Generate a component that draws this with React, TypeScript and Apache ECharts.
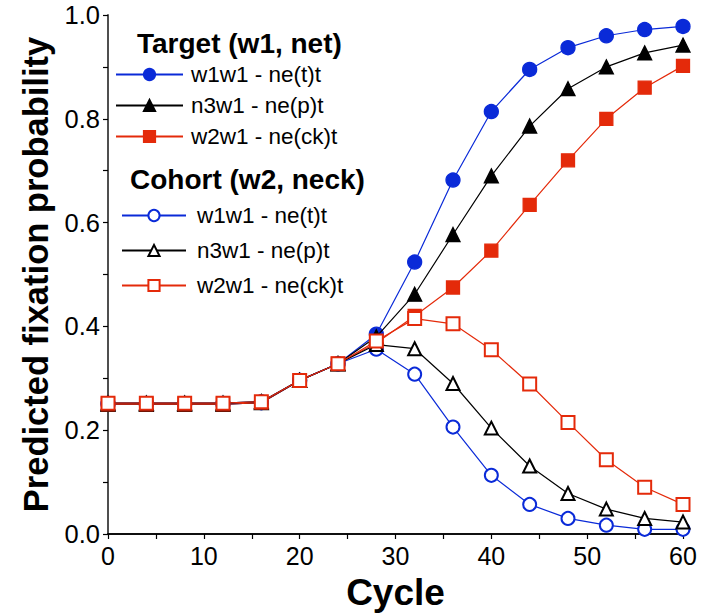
import React, { useEffect, useRef } from "react";
import * as echarts from "echarts";

const cycles = [0, 4, 8, 12, 16, 20, 24, 28, 32, 36, 40, 44, 48, 52, 56, 60];

const targetW1 = [0.25, 0.25, 0.25, 0.25, 0.253, 0.296, 0.328, 0.385, 0.524, 0.682, 0.814, 0.895, 0.937, 0.96, 0.972, 0.978];
const targetN3 = [0.25, 0.25, 0.25, 0.25, 0.253, 0.296, 0.328, 0.38, 0.462, 0.577, 0.69, 0.786, 0.858, 0.9, 0.927, 0.942];
const targetW2 = [0.25, 0.25, 0.25, 0.25, 0.253, 0.296, 0.328, 0.368, 0.42, 0.475, 0.546, 0.634, 0.72, 0.8, 0.86, 0.902];

const cohortW1 = [0.252, 0.252, 0.252, 0.252, 0.255, 0.296, 0.328, 0.356, 0.308, 0.206, 0.113, 0.057, 0.03, 0.017, 0.009, 0.009];
const cohortN3 = [0.252, 0.252, 0.252, 0.252, 0.255, 0.296, 0.328, 0.365, 0.357, 0.29, 0.204, 0.131, 0.078, 0.048, 0.03, 0.023];
const cohortW2 = [0.252, 0.252, 0.252, 0.252, 0.255, 0.296, 0.328, 0.372, 0.415, 0.405, 0.355, 0.289, 0.215, 0.143, 0.09, 0.057];

const itemLabels = ["w1w1 - ne(t)t", "n3w1 - ne(p)t", "w2w1 - ne(ck)t"];
const groupTitles = ["Target (w1, net)", "Cohort (w2, neck)"];

const BLUE = "#0a2ad8";
const RED = "#e42a0a";
const BLACK = "#000000";
const FONT = "Liberation Sans";

function toPairs(vals: number[]) {
  return cycles.map((c, i) => [c, vals[i]]);
}

export default function App() {
  const ref = useRef<HTMLDivElement>(null);
  useEffect(() => {
    document.body.style.margin = "0";
    if (!ref.current) return;
    const chart = echarts.init(ref.current, null, { renderer: "svg" });
    const mk = (name: string, vals: number[], color: string, symbol: string, size: number, z: number) => ({
      type: "line",
      name,
      data: toPairs(vals),
      symbol,
      symbolSize: size,
      z,
      lineStyle: { color, width: 1.2 },
      itemStyle: { color, borderColor: color, borderWidth: 1.3 },
      emphasis: { disabled: true },
    });
    const tNames = itemLabels.map((l) => "t:" + l);
    const cNames = itemLabels.map((l) => "c:" + l);
    const legendText = (pad: number) => ({
      fontFamily: FONT,
      fontSize: 22.5,
      color: "#000",
      padding: [0, 0, 0, pad],
    });
    chart.setOption({
      animation: false,
      grid: { left: 108, right: 32, top: 15, bottom: 79 },
      xAxis: [
        {
          type: "value",
          min: 0,
          max: 60,
          interval: 10,
          axisLine: { show: true, lineStyle: { color: "#000", width: 1.5 } },
          axisTick: { show: true, length: 5, lineStyle: { color: "#000", width: 1.2 } },
          minorTick: { show: true, splitNumber: 2, length: 5, lineStyle: { color: "#000", width: 1.2 } },
          splitLine: { show: false },
          axisLabel: { fontFamily: FONT, fontSize: 25, color: "#000", margin: 9 },
          name: "Cycle",
          nameLocation: "middle",
          nameGap: 40,
          nameTextStyle: { fontFamily: FONT, fontSize: 37, fontWeight: "bold", color: "#000" },
        },
        {
          type: "value",
          position: "top",
          min: 0,
          max: 60,
          axisLine: { show: true, lineStyle: { color: "#000", width: 1.5 } },
          axisTick: { show: false },
          axisLabel: { show: false },
          splitLine: { show: false },
        },
      ],
      yAxis: [
        {
          type: "value",
          min: 0,
          max: 1,
          interval: 0.2,
          axisLine: { show: true, lineStyle: { color: "#000", width: 1.5 } },
          axisTick: { show: true, length: 5, lineStyle: { color: "#000", width: 1.2 } },
          minorTick: { show: true, splitNumber: 2, length: 5, lineStyle: { color: "#000", width: 1.2 } },
          splitLine: { show: false },
          axisLabel: {
            fontFamily: FONT,
            fontSize: 25.5,
            color: "#000",
            margin: 8,
            formatter: (v: number) => v.toFixed(1),
          },
          name: "Predicted fixation probability",
          nameLocation: "middle",
          nameGap: 50,
          nameTextStyle: { fontFamily: FONT, fontSize: 34.5, fontWeight: "bold", color: "#000" },
        },
        {
          type: "value",
          position: "right",
          min: 0,
          max: 1,
          axisLine: { show: true, lineStyle: { color: "#555", width: 1.5 } },
          axisTick: { show: false },
          axisLabel: { show: false },
          splitLine: { show: false },
        },
      ],
      legend: [
        {
          orient: "vertical",
          left: 110,
          top: 58,
          itemWidth: 67,
          itemHeight: 14,
          itemGap: 8,
          data: tNames,
          formatter: (n: string) => n.slice(2),
          textStyle: legendText(3),
          selectedMode: false,
        },
        {
          orient: "vertical",
          left: 116,
          top: 199,
          itemWidth: 64,
          itemHeight: 14,
          itemGap: 12,
          data: cNames,
          formatter: (n: string) => n.slice(2),
          textStyle: legendText(6),
          selectedMode: false,
        },
      ],
      graphic: [
        {
          type: "text",
          left: 137,
          top: 29,
          style: { text: groupTitles[0], fontFamily: FONT, fontSize: 28, fontWeight: "bold", fill: "#000" },
        },
        {
          type: "text",
          left: 130,
          top: 165,
          style: { text: groupTitles[1], fontFamily: FONT, fontSize: 28, fontWeight: "bold", fill: "#000" },
        },
      ],
      series: [
        mk(tNames[0], targetW1, BLUE, "circle", 14, 2),
        mk(tNames[1], targetN3, BLACK, "triangle", 14, 3),
        mk(tNames[2], targetW2, RED, "rect", 13, 4),
        mk(cNames[0], cohortW1, BLUE, "emptyCircle", 13, 5),
        mk(cNames[1], cohortN3, BLACK, "emptyTriangle", 13, 6),
        mk(cNames[2], cohortW2, RED, "emptyRect", 13, 7),
      ],
    });
    return () => chart.dispose();
  }, []);
  return <div ref={ref} style={{ width: 715, height: 616 }} />;
}
